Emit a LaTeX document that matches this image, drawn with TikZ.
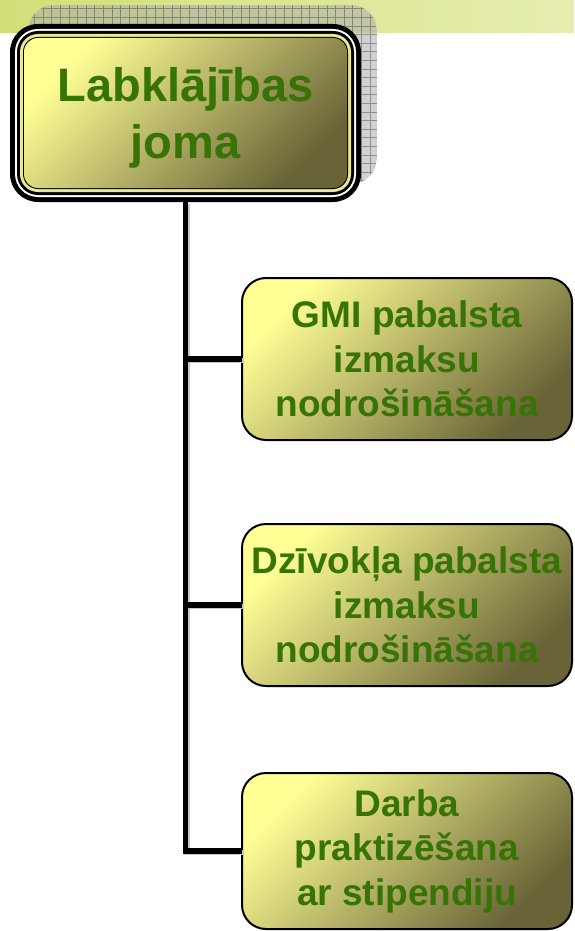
\documentclass[tikz,border=0pt]{standalone}
\usepackage{fontspec}
\setmainfont{Liberation Sans}
\definecolor{bandL}{RGB}{210,223,120}
\definecolor{bandR}{RGB}{230,237,176}
\definecolor{boxA}{RGB}{255,255,150}
\definecolor{boxB}{RGB}{214,210,122}
\definecolor{boxC}{RGB}{105,100,55}
\definecolor{rimY}{RGB}{232,232,150}
\definecolor{txtgreen}{RGB}{55,115,5}
\tikzset{
  frame/.style={rectangle, outer sep=0pt, inner sep=0pt},
  mainfill/.style={frame, rounded corners=14pt, minimum width=323pt, minimum height=150pt,
    top color=boxA, middle color=boxB, bottom color=boxC, shading angle=45},
  maintext/.style={align=center, text=txtgreen, inner sep=0pt, font=\fontsize{47}{57}\selectfont\bfseries},
  leaf/.style={rectangle, rounded corners=24pt, draw=black, line width=2pt,
    top color=boxA, middle color=boxB, bottom color=boxC, shading angle=45,
    minimum width=330pt, minimum height=162pt, align=center, text=txtgreen,
    font=\fontsize{37}{44.5}\selectfont\bfseries, inner sep=0pt, outer sep=0pt},
  conn/.style={draw=black, line width=5.5pt},
  connshadow/.style={draw=gray!45, line width=5.5pt}
}
\begin{document}
\begin{tikzpicture}[x=1pt,y=-1pt]
\useasboundingbox (0,0) rectangle (574,931);
% top band
\shade[left color=bandL, right color=bandR] (0,0) rectangle (574,33);
% grid shadow of the title box
\begin{scope}
  \clip[rounded corners=26pt] (28,5) rectangle (377,184);
  \fill[gray!65, opacity=0.55] (28,5) rectangle (377,184);
  \draw[gray!50!black, opacity=0.45, line width=0.5pt, step=8.6pt] (28,5) grid (377,184);
\end{scope}
% title box with multi-line frame
\node[frame, fill=black, rounded corners=28pt, minimum width=351pt, minimum height=178pt] (mainframe) at (185.5,113) {};
\node[frame, fill=white, rounded corners=23pt, minimum width=341pt, minimum height=168pt] (mf1) at (185.5,113) {};
\node[frame, fill=black, rounded corners=21pt, minimum width=337pt, minimum height=164pt] (mf2) at (185.5,113) {};
\node[frame, fill=rimY, rounded corners=18pt, minimum width=331pt, minimum height=158pt] (mf3) at (185.5,113) {};
\node[frame, fill=black, rounded corners=15pt, minimum width=325pt, minimum height=152pt] (mf4) at (185.5,113) {};
\node[mainfill] (main) at (185.5,113) {};
\node[maintext] (mainlabel) at (185.5,118) {Labklājības\\joma};
% leaf boxes
\node[leaf] (b1) at (407,359) {GMI pabalsta\\izmaksu\\nodrošināšana};
\node[leaf] (b2) at (407,605) {Dzīvokļa pabalsta\\izmaksu\\nodrošināšana};
\node[leaf, minimum height=156pt] (b3) at (407,851) {Darba\\praktizēšana\\ar stipendiju};
% connectors
\begin{scope}[transform canvas={shift={(1.5pt,-1.5pt)}}]
  \draw[connshadow] (mainframe.south) |- (b3.west);
  \draw[connshadow] (mainframe.south |- b1.west) -- (b1.west);
  \draw[connshadow] (mainframe.south |- b2.west) -- (b2.west);
\end{scope}
\draw[conn] (mainframe.south) |- (b3.west);
\draw[conn] (mainframe.south |- b1.west) -- (b1.west);
\draw[conn] (mainframe.south |- b2.west) -- (b2.west);
\end{tikzpicture}
\end{document}
